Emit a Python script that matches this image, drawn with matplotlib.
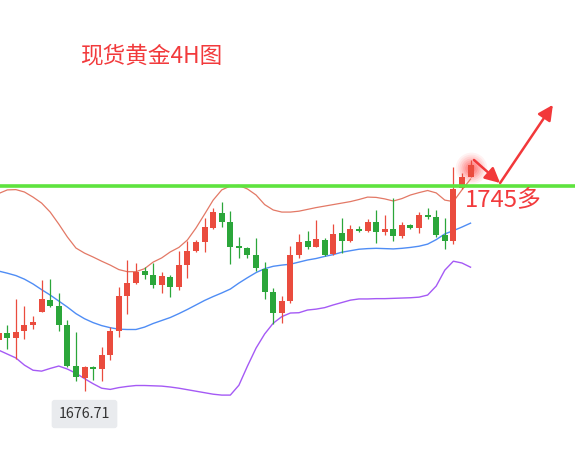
import matplotlib
matplotlib.use("Agg")
import matplotlib.pyplot as plt
import numpy as np

plt.rcParams['font.family'] = ['Noto Sans CJK SC', 'DejaVu Sans']

# ---- data (XAUUSD 4H candles) ----
opens = [1693.6, 1695.9, 1694.2, 1696.6, 1698.6, 1702.9, 1706.9, 1704.9, 1698.6, 1684.9,
         1681.0, 1684.6, 1684.0, 1688.6, 1696.7, 1708.4, 1712.7, 1716.6, 1715.3, 1711.9,
         1714.6, 1711.3, 1718.6, 1723.3, 1726.3, 1730.9, 1736.0, 1733.0, 1725.0, 1724.3,
         1722.0, 1717.3, 1709.6, 1702.6, 1706.6, 1722.0, 1726.6, 1724.6, 1727.0, 1722.3,
         1729.3, 1726.6, 1730.3, 1730.0, 1733.0, 1729.6, 1730.6, 1728.3, 1732.0, 1731.0,
         1735.3, 1734.6, 1728.6, 1726.7, 1744.3, 1748.1]
highs = [1696.6, 1698.6, 1707.3, 1704.9, 1701.6, 1713.6, 1713.9, 1709.3, 1700.2, 1696.2,
         1684.9, 1684.9, 1691.3, 1697.9, 1711.4, 1720.3, 1719.4, 1717.9, 1719.3, 1716.3,
         1715.3, 1723.3, 1726.6, 1727.0, 1734.3, 1737.7, 1739.7, 1736.6, 1728.0, 1724.6,
         1727.6, 1719.6, 1710.9, 1708.3, 1725.0, 1729.0, 1730.0, 1733.6, 1727.6, 1732.3,
         1734.3, 1732.0, 1731.6, 1734.0, 1737.0, 1735.3, 1741.0, 1733.0, 1732.3, 1736.3,
         1737.7, 1737.0, 1734.3, 1751.4, 1749.4, 1753.7]
lows = [1692.9, 1690.6, 1687.3, 1693.9, 1697.2, 1702.8, 1704.6, 1696.6, 1684.7, 1679.9,
        1676.71, 1680.2, 1680.0, 1686.9, 1694.7, 1702.2, 1712.2, 1713.8, 1710.8, 1709.4,
        1708.0, 1710.3, 1714.3, 1723.1, 1723.0, 1730.6, 1731.3, 1718.9, 1721.0, 1721.0,
        1716.6, 1707.3, 1698.9, 1699.2, 1706.0, 1721.1, 1724.0, 1724.5, 1721.6, 1722.1,
        1722.6, 1726.3, 1729.8, 1729.6, 1726.0, 1728.6, 1726.6, 1727.6, 1730.6, 1729.3,
        1734.0, 1728.0, 1724.1, 1725.7, 1744.1, 1748.0]
closes = [1695.9, 1694.2, 1696.3, 1698.6, 1699.7, 1707.3, 1704.9, 1698.6, 1684.9, 1681.2,
          1684.6, 1684.0, 1688.6, 1696.6, 1708.4, 1712.7, 1716.3, 1715.3, 1711.9, 1714.9,
          1711.3, 1718.6, 1723.3, 1726.3, 1731.2, 1736.3, 1733.0, 1724.6, 1724.3, 1722.0,
          1717.6, 1709.6, 1702.6, 1706.6, 1722.0, 1726.3, 1724.6, 1727.3, 1722.0, 1729.0,
          1726.6, 1730.6, 1730.0, 1733.0, 1729.6, 1730.6, 1728.3, 1732.0, 1731.0, 1735.3,
          1734.6, 1728.6, 1726.7, 1744.1, 1748.0, 1751.9]

boll_upper = [1742.5, 1743.7, 1743.8, 1743.0, 1741.3, 1739.3, 1736.3, 1732.3, 1728.0, 1724.3,
              1722.6, 1721.3, 1719.9, 1718.6, 1717.1, 1716.4, 1716.4, 1717.4, 1719.6, 1721.0,
              1723.0, 1724.5, 1727.0, 1731.0, 1735.6, 1740.3, 1743.7, 1745.0, 1745.2, 1744.0,
              1742.0, 1738.8, 1737.0, 1736.3, 1736.3, 1736.6, 1737.2, 1737.8, 1738.3, 1738.8,
              1739.3, 1739.8, 1740.5, 1741.3, 1741.2, 1740.7, 1740.0, 1740.8, 1742.0, 1742.8,
              1743.5, 1742.7, 1740.3, 1739.8, 1743.7, 1747.3]
boll_mid = [1716.6, 1715.9, 1715.1, 1713.9, 1712.3, 1710.4, 1708.6, 1706.6, 1704.6, 1702.4,
            1700.7, 1699.4, 1698.4, 1697.7, 1697.2, 1697.1, 1697.1, 1697.9, 1699.1, 1700.1,
            1701.1, 1702.4, 1703.8, 1705.3, 1706.8, 1708.1, 1709.3, 1710.6, 1712.6, 1714.4,
            1716.1, 1717.4, 1718.2, 1718.6, 1718.9, 1719.6, 1720.3, 1720.8, 1721.5, 1722.1,
            1722.9, 1723.4, 1723.9, 1724.1, 1724.2, 1724.1, 1724.0, 1724.2, 1724.5, 1724.9,
            1725.6, 1727.1, 1729.0, 1730.1, 1731.3, 1732.6]
boll_lower = [1690.2, 1688.9, 1687.6, 1685.2, 1683.5, 1683.2, 1684.1, 1684.9, 1683.9, 1682.5,
              1680.7, 1679.0, 1677.5, 1677.1, 1677.7, 1678.1, 1678.4, 1678.4, 1678.3, 1678.2,
              1677.9, 1677.5, 1677.0, 1676.5, 1676.0, 1675.5, 1675.2, 1675.2, 1678.5, 1684.9,
              1690.9, 1695.6, 1699.2, 1701.4, 1702.6, 1702.7, 1703.6, 1703.9, 1704.4, 1705.3,
              1706.1, 1706.9, 1707.3, 1707.3, 1707.4, 1707.4, 1707.5, 1707.6, 1707.7, 1707.9,
              1708.6, 1711.6, 1716.9, 1719.9, 1719.3, 1717.9]

key_level = 1745
low_label = "1676.71"
title_text = "现货黄金4H图"
level_text = "1745多"
# arrow path (candle index, price)
arrow_x = [55.4, 58.45, 64.6]
arrow_y = [1753.7, 1746.0, 1772.1]

RED = "#ea4c3e"
GREEN = "#2ba63a"

fig = plt.figure(figsize=(5.75, 4.58), dpi=100)
ax = fig.add_axes([0, 0, 1, 1])
ax.set_xlim(0.149, 67.18)
ax.set_ylim(1654.2, 1807.1)
ax.axis("off")

x = np.arange(len(opens))

# bollinger bands
ax.plot(x, boll_upper, color="#e06a55", lw=0.9, alpha=0.9, zorder=2)
ax.plot(x, boll_mid, color="#4f8df5", lw=1.0, zorder=2)
ax.plot(x, boll_lower, color="#a55af5", lw=1.0, zorder=2)

# glow behind last candle
for s, a in [(520, 0.06), (400, 0.07), (300, 0.09), (210, 0.11), (140, 0.13), (80, 0.16), (35, 0.2)]:
    ax.scatter([x[-1]], [(highs[-1] + lows[-1]) / 2 + 0.3], s=s, color="#ff2a2a",
               alpha=a, linewidths=0, zorder=1)

# candles
for i in range(len(opens)):
    o, h, l, c = opens[i], highs[i], lows[i], closes[i]
    col = RED if c >= o else GREEN
    ax.vlines(x[i], l, h, color=col, lw=0.9, zorder=3)
    bot = min(o, c)
    hgt = max(abs(c - o), 0.5)
    ax.bar(x[i], hgt, bottom=bot, width=0.7, color=col, linewidth=0, zorder=4)

# key level
ax.axhline(key_level, color="#5ee33e", lw=2.6, zorder=5)

# arrows
ax.annotate("", xy=(arrow_x[1], arrow_y[1]), xytext=(arrow_x[0], arrow_y[0]),
            arrowprops=dict(arrowstyle="-|>,head_length=0.9,head_width=0.45",
                            color="#f2383a", lw=1.8, shrinkA=0, shrinkB=0), zorder=6)
ax.annotate("", xy=(arrow_x[2], arrow_y[2]), xytext=(arrow_x[1], arrow_y[1]),
            arrowprops=dict(arrowstyle="-|>,head_length=0.9,head_width=0.45",
                            color="#f2383a", lw=1.8, shrinkA=0, shrinkB=0), zorder=6)

# texts
ax.text(0.139, 0.877, title_text, transform=ax.transAxes, color="#f23a3c",
        fontsize=16.3, va="center", ha="left")
ax.text(0.809, 0.562, level_text, transform=ax.transAxes, color="#f23a3c",
        fontsize=17.2, va="center", ha="left", zorder=7)
ax.text(10, 0.096, low_label, transform=ax.get_xaxis_transform(), color="#333333",
        fontsize=10.3, va="center", ha="center",
        bbox=dict(boxstyle="round,pad=0.5,rounding_size=0.2", fc="#e9ebee", ec="none"))

fig.savefig("out.png", dpi=100)
